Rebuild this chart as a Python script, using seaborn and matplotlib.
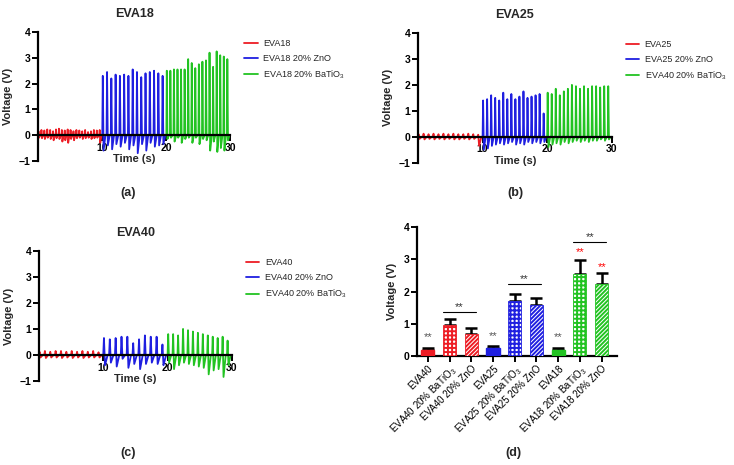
"""
Piezoelectric output of EVA composites: voltage traces and mean peak voltage
"""

import numpy as np
import matplotlib
matplotlib.use("Agg")
import matplotlib.pyplot as plt
import seaborn as sns

RED = '#ED1C24'
BLUE = '#1F1FE0'
GREEN = '#22C322'

# ---- panel (a): EVA18 ----
A_RED_PEAK = [0.15, 0.2, 0.18, 0.22, 0.2, 0.15, 0.22, 0.25, 0.2, 0.18, 0.22,
              0.2, 0.15, 0.2, 0.18, 0.15, 0.2, 0.12, 0.15, 0.2, 0.18, 0.2]
A_RED_TROUGH = [-0.1, -0.12, -0.15, -0.1, -0.15, -0.2, -0.12, -0.15, -0.25, -0.2, -0.3,
                -0.15, -0.2, -0.12, -0.1, -0.15, -0.12, -0.1, -0.15, -0.12, -0.1, -0.3]
A_BLUE_PEAK = [2.3, 2.45, 2.2, 2.35, 2.3, 2.35, 2.3, 2.55, 2.45, 2.25, 2.4, 2.45, 2.5, 2.4, 2.3]
A_BLUE_TROUGH = [-0.6, -0.4, -0.55, -0.35, -0.45, -0.3, -0.55, -0.4, -0.7, -0.35, -0.6,
                 -0.3, -0.45, -0.4, -0.35]
A_GREEN_PEAK = [2.5, 2.5, 2.55, 2.55, 2.55, 2.55, 2.95, 2.8, 2.6, 2.75, 2.85, 2.9,
                3.2, 2.65, 3.25, 3.1, 3.05, 2.95]
A_GREEN_TROUGH = [-0.15, -0.1, -0.25, -0.1, -0.3, -0.15, -0.1, -0.3, -0.1, -0.35, -0.15,
                  -0.2, -0.6, -0.25, -0.65, -0.5, -0.6, -0.2]

# ---- panel (b): EVA25 ----
B_RED_PEAK = [0.1, 0.12, 0.1, 0.12, 0.1, 0.12, 0.1, 0.12, 0.1, 0.1, 0.12, 0.1, 0.08]
B_RED_TROUGH = [-0.08, -0.1, -0.08, -0.1, -0.08, -0.1, -0.08, -0.1, -0.1, -0.08, -0.1, -0.08, -0.35]
B_BLUE_PEAK = [1.4, 1.45, 1.6, 1.5, 1.4, 1.7, 1.45, 1.65, 1.45, 1.55, 1.75, 1.5,
               1.55, 1.6, 1.65, 0.9]
B_BLUE_TROUGH = [-0.5, -0.45, -0.35, -0.3, -0.25, -0.3, -0.25, -0.2, -0.3, -0.25, -0.3,
                 -0.2, -0.25, -0.2, -0.25, -0.2]
B_GREEN_PEAK = [1.7, 1.65, 1.85, 1.6, 1.75, 1.85, 2.0, 1.95, 1.85, 1.95, 1.85, 1.95,
                1.95, 1.9, 1.95, 1.95]
B_GREEN_TROUGH = [-0.4, -0.3, -0.25, -0.3, -0.2, -0.25, -0.2, -0.15, -0.2, -0.15, -0.2,
                  -0.15, -0.15, -0.1, -0.15, -0.1]

# ---- panel (c): EVA40 ----
C_RED_PEAK = [0.12, 0.15, 0.12, 0.15, 0.15, 0.12, 0.15, 0.12, 0.15, 0.12, 0.15, 0.1]
C_RED_TROUGH = [-0.1, -0.12, -0.1, -0.1, -0.12, -0.1, -0.12, -0.1, -0.12, -0.1, -0.1, -0.1]
C_BLUE_PEAK = [0.65, 0.6, 0.65, 0.7, 0.7, 0.45, 0.6, 0.75, 0.7, 0.7, 0.4]
C_BLUE_TROUGH = [-0.4, -0.3, -0.45, -0.15, -0.5, -0.35, -0.55, -0.35, -0.3, -0.35, -0.4]
C_GREEN_PEAK = [0.8, 0.8, 0.75, 1.0, 0.95, 0.9, 0.85, 0.8, 0.75, 0.7, 0.65, 0.7, 0.55]
C_GREEN_TROUGH = [-0.3, -0.55, -0.4, -0.3, -0.35, -0.4, -0.45, -0.5, -0.75, -0.6,
                  -0.55, -0.85, -0.4]

# ---- panel (d): mean peak voltage ----
BAR_LABELS = ['EVA40', 'EVA40 20% BaTiO$_3$', 'EVA40 20% ZnO',
              'EVA25', 'EVA25 20% BaTiO$_3$', 'EVA25 20% ZnO',
              'EVA18', 'EVA18 20% BaTiO$_3$', 'EVA18 20% ZnO']
BAR_MEAN = [0.19, 0.95, 0.70, 0.25, 1.72, 1.57, 0.20, 2.54, 2.23]
BAR_ERR = [0.05, 0.21, 0.16, 0.06, 0.20, 0.24, 0.04, 0.45, 0.33]
BAR_COLORS = [RED, RED, RED, BLUE, BLUE, BLUE, GREEN, GREEN, GREEN]
BAR_HATCH = [None, '++++', '////////'] * 3
# stars over plain bars, red stars over EVA18 composites
STAR_GRAY = [(0, 0.58), (3, 0.62), (6, 0.6)]
STAR_RED = [(7, 3.23), (8, 2.76)]
BRACKETS = [(1, 2, 1.37), (4, 5, 2.23), (7, 8, 3.54)]


def spike_trace(t0, t1, peaks, troughs):
    """Turn per-cycle peak/trough readings into a piecewise trace."""
    n = len(peaks)
    period = (t1 - t0) / n
    starts = np.linspace(t0, t1, n + 1)[:-1]
    t, v = [], []
    for s, p, q in zip(starts, peaks, troughs):
        t += [s, s + 0.12 * period, s + 0.3 * period, s + 0.75 * period]
        v += [0.0, p, q, 0.0]
    t.append(t1)
    v.append(0.0)
    return np.array(t), np.array(v)


sns.set_style('ticks')
plt.rcParams['font.family'] = ['Liberation Sans', 'DejaVu Sans']
plt.rcParams['mathtext.fontset'] = 'custom'
plt.rcParams['mathtext.rm'] = 'Liberation Sans'
plt.rcParams['hatch.linewidth'] = 1.4

fig = plt.figure(figsize=(7.34, 4.65), dpi=100)


def style_axes(ax):
    for side in ['top', 'right']:
        ax.spines[side].set_visible(False)
    for side in ['left', 'bottom']:
        ax.spines[side].set_linewidth(1.6)
        ax.spines[side].set_color('black')
    ax.tick_params(width=1.4, length=4, direction='out', colors='black', pad=1.5)
    for lab in ax.get_yticklabels():
        lab.set_fontweight('bold')
        lab.set_fontsize(7.5)


def trace_panel(rect, title, names, data):
    ax = fig.add_axes(rect)
    segs = [(0, 10), (10, 20), (20, 30)]
    for (t0, t1), name, color, (pk, tr) in zip(segs, names, [RED, BLUE, GREEN], data):
        t, v = spike_trace(t0, t1, pk, tr)
        sns.lineplot(x=t, y=v, color=color, lw=1.3, label=name, ax=ax,
                     sort=False, estimator=None)
    ax.set_xlim(0, 30)
    ax.set_ylim(-1, 4)
    ax.set_xticks([10, 20, 30])
    ax.set_yticks([-1, 0, 1, 2, 3, 4])
    ax.spines['bottom'].set_position(('data', 0))
    style_axes(ax)
    for lab in ax.get_xticklabels():
        lab.set_fontweight('bold')
        lab.set_fontsize(7.5)
    ax.set_xlabel('Time (s)', fontsize=8, fontweight='bold', labelpad=1)
    ax.set_ylabel('Voltage (V)', fontsize=8, fontweight='bold', labelpad=4)
    ax.set_title(title, fontsize=9, fontweight='bold', pad=11)
    ax.legend(loc='upper left', bbox_to_anchor=(1.03, 1.01), frameon=False,
              fontsize=6.5, handlelength=1.5, handletextpad=0.6, labelspacing=0.65)
    return ax


trace_panel([0.052, 0.654, 0.262, 0.277], 'EVA18',
            ['EVA18', 'EVA18 20% ZnO', 'EVA18 20% BaTiO$_3$'],
            [(A_RED_PEAK, A_RED_TROUGH), (A_BLUE_PEAK, A_BLUE_TROUGH),
             (A_GREEN_PEAK, A_GREEN_TROUGH)])
trace_panel([0.5695, 0.650, 0.264, 0.279], 'EVA25',
            ['EVA25', 'EVA25 20% ZnO', 'EVA40 20% BaTiO$_3$'],
            [(B_RED_PEAK, B_RED_TROUGH), (B_BLUE_PEAK, B_BLUE_TROUGH),
             (B_GREEN_PEAK, B_GREEN_TROUGH)])
trace_panel([0.053, 0.181, 0.263, 0.279], 'EVA40',
            ['EVA40', 'EVA40 20% ZnO', 'EVA40 20% BaTiO$_3$'],
            [(C_RED_PEAK, C_RED_TROUGH), (C_BLUE_PEAK, C_BLUE_TROUGH),
             (C_GREEN_PEAK, C_GREEN_TROUGH)])

# ---- bar chart ----
axd = fig.add_axes([0.568, 0.234, 0.2725, 0.278])
xpos = np.arange(len(BAR_MEAN))
axd.errorbar(xpos, BAR_MEAN, yerr=[np.zeros(len(BAR_ERR)), BAR_ERR], fmt='none',
             ecolor='black', elinewidth=1.8, capsize=4, capthick=1.8, zorder=3)
sns.barplot(x=xpos, y=BAR_MEAN, hue=xpos, palette=BAR_COLORS, legend=False,
            width=0.6, ax=axd, native_scale=True, zorder=4)
for patch, color, hatch in zip(axd.patches, BAR_COLORS, BAR_HATCH):
    if hatch:
        patch.set_facecolor('white')
        patch.set_edgecolor(color)
        patch.set_hatch(hatch)
        patch.set_linewidth(0.6)
    else:
        patch.set_facecolor(color)
        patch.set_edgecolor(color)
for i, y in STAR_GRAY:
    axd.text(i, y, '**', color='#555555', ha='center', va='center', fontsize=8)
for i, y in STAR_RED:
    axd.text(i, y, '**', color='red', ha='center', va='center', fontsize=8)
for i0, i1, y in BRACKETS:
    axd.plot([i0 - 0.3, i1 + 0.2], [y, y], color='black', lw=0.8)
    axd.text((i0 + i1) / 2 - 0.05, y + 0.15, '**', color='#333333', ha='center',
             va='center', fontsize=8)
axd.set_xlim(-0.5, 8.7)
axd.set_ylim(0, 4)
axd.set_yticks([0, 1, 2, 3, 4])
axd.set_xticks(xpos)
axd.set_xticklabels(BAR_LABELS, rotation=45, ha='right', rotation_mode='anchor',
                    fontsize=7)
style_axes(axd)
axd.set_xlabel('')
axd.set_ylabel('Voltage (V)', fontsize=8, fontweight='bold', labelpad=5)

for txt, x, y in [('(a)', 0.174, 0.585), ('(b)', 0.702, 0.585),
                  ('(c)', 0.174, 0.026), ('(d)', 0.700, 0.026)]:
    fig.text(x, y, txt, fontsize=9, fontweight='bold', ha='center', va='center')

fig.savefig('out.png', dpi=100)
